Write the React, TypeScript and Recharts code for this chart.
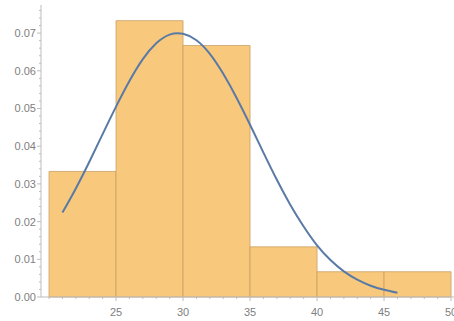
import { ComposedChart, Line, XAxis, YAxis, ReferenceArea } from "recharts";

// histogram bins (density)
const binStarts = [20, 25, 30, 35, 40, 45];
const binEnds = [25, 30, 35, 40, 45, 50];
const binDensity = [0.0333, 0.0733, 0.0667, 0.0133, 0.0067, 0.0067];

// fitted normal curve
const curveX = [21, 22, 23, 24, 25, 26, 27, 28, 29, 30, 31, 32, 33, 34, 35, 36, 37, 38, 39, 40, 41, 42, 43, 44, 45, 46];
const curveY = [
  0.0224, 0.0288, 0.0358, 0.0432, 0.0505, 0.0573, 0.0631, 0.0673, 0.0696, 0.0698,
  0.0681, 0.0645, 0.0592, 0.0528, 0.0457, 0.0383, 0.0311, 0.0245, 0.0187, 0.0137,
  0.0098, 0.0068, 0.0046, 0.003, 0.0019, 0.0011,
];

const xMajor = [25, 30, 35, 40, 45, 50];
const xMinor = [20, 21, 22, 23, 24, 26, 27, 28, 29, 31, 32, 33, 34, 36, 37, 38, 39, 41, 42, 43, 44, 46, 47, 48, 49];
const yMajor = [0, 0.01, 0.02, 0.03, 0.04, 0.05, 0.06, 0.07];
const yMinor = [
  0.002, 0.004, 0.006, 0.008, 0.012, 0.014, 0.016, 0.018, 0.022, 0.024, 0.026, 0.028,
  0.032, 0.034, 0.036, 0.038, 0.042, 0.044, 0.046, 0.048, 0.052, 0.054, 0.056, 0.058,
  0.062, 0.064, 0.066, 0.068, 0.072, 0.074, 0.076,
];

const curveData = curveX.map((x, i) => ({ x, y: curveY[i] }));

const axisColor = "#bdbdbd";
const textColor = "#808080";

const isMajor = (list: number[], v: number) => list.some((m) => Math.abs(m - v) < 1e-9);

function YTick(props: any) {
  const { x, y, payload } = props;
  const major = isMajor(yMajor, payload.value);
  return (
    <g>
      <line x1={x - (major ? 4 : 2)} x2={x} y1={y} y2={y} stroke={axisColor} strokeWidth={1} />
      {major && (
        <text x={x - 5} y={y} dy={4} textAnchor="end" fontSize={11} fill={textColor} fontFamily="Liberation Sans, Arial, sans-serif">
          {payload.value.toFixed(2)}
        </text>
      )}
    </g>
  );
}

function XTick(props: any) {
  const { x, y, payload } = props;
  const major = isMajor(xMajor, payload.value);
  return (
    <g>
      <line x1={x} x2={x} y1={y} y2={y + (major ? 4 : 2)} stroke={axisColor} strokeWidth={1} />
      {major && (
        <text x={x} y={y + 15} dy={4} textAnchor="middle" fontSize={11} fill={textColor} fontFamily="Liberation Sans, Arial, sans-serif">
          {payload.value}
        </text>
      )}
    </g>
  );
}

export default function App() {
  return (
    <div style={{ position: "absolute", left: 0, top: 0, width: 454, height: 321, background: "#fff" }}>
      <ComposedChart width={454} height={321} data={curveData} margin={{ top: 5, right: 0, left: 0, bottom: 0 }}>
        <XAxis
          dataKey="x"
          type="number"
          domain={[19.4, 50.22]}
          allowDataOverflow
          ticks={[...xMajor, ...xMinor].sort((a, b) => a - b)}
          interval={0}
          tick={<XTick />}
          tickLine={false}
          tickSize={0}
          tickMargin={0}
          axisLine={{ stroke: axisColor }}
          height={24}
        />
        <YAxis
          type="number"
          domain={[0, 0.07745]}
          allowDataOverflow
          ticks={[...yMajor, ...yMinor].sort((a, b) => a - b)}
          interval={0}
          tick={<YTick />}
          tickLine={false}
          tickSize={0}
          tickMargin={0}
          axisLine={{ stroke: axisColor }}
          width={41}
        />
        {binStarts.map((s, i) => (
          <ReferenceArea
            key={s}
            x1={s}
            x2={binEnds[i]}
            y1={0}
            y2={binDensity[i]}
            fill="#f8c97c"
            fillOpacity={1}
            stroke="#c9a066"
            strokeWidth={0.8}
            strokeOpacity={1}
          />
        ))}
        <Line
          dataKey="y"
          type="natural"
          stroke="#5a7aa6"
          strokeWidth={2}
          dot={false}
          isAnimationActive={false}
        />
      </ComposedChart>
    </div>
  );
}
